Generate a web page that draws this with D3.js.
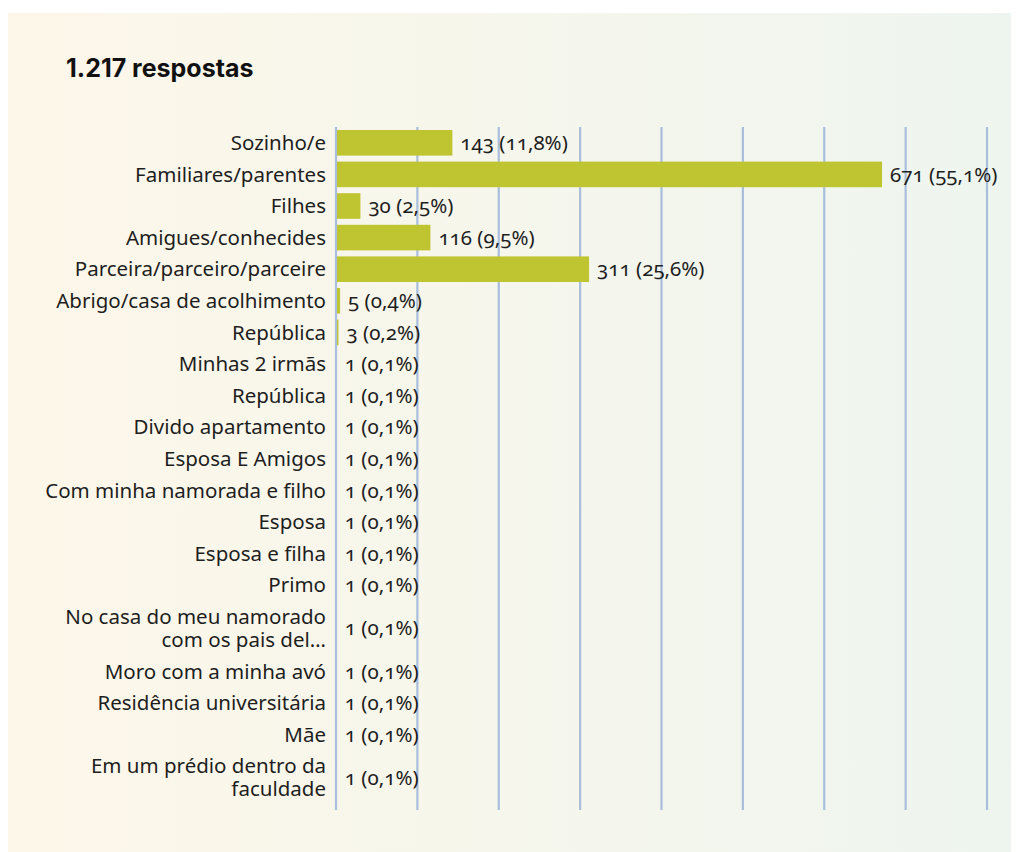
<!DOCTYPE html>
<html>
<head>
<meta charset="utf-8">
<script src="https://cdn.jsdelivr.net/npm/d3@7"></script>
<style>
  html, body { margin: 0; padding: 0; background: #ffffff; }
  svg { display: block; }
</style>
</head>
<body>
<svg id="chart" width="1020" height="852"></svg>
<script>
const title = "1.217 respostas";
const categories = [
  "Sozinho/e",
  "Familiares/parentes",
  "Filhes",
  "Amigues/conhecides",
  "Parceira/parceiro/parceire",
  "Abrigo/casa de acolhimento",
  "República",
  "Minhas 2 irmãs",
  "República",
  "Divido apartamento",
  "Esposa E Amigos",
  "Com minha namorada e filho",
  "Esposa",
  "Esposa e filha",
  "Primo",
  "No casa do meu namorado\ncom os pais del…",
  "Moro com a minha avó",
  "Residência universitária",
  "Mãe",
  "Em um prédio dentro da\nfaculdade"
];
const values = [143, 671, 30, 116, 311, 5, 3, 1, 1, 1, 1, 1, 1, 1, 1, 1, 1, 1, 1, 1];
const percents = ["11,8%", "55,1%", "2,5%", "9,5%", "25,6%", "0,4%", "0,2%", "0,1%", "0,1%", "0,1%",
                  "0,1%", "0,1%", "0,1%", "0,1%", "0,1%", "0,1%", "0,1%", "0,1%", "0,1%", "0,1%"];
const xTicks = [0, 100, 200, 300, 400, 500, 600, 700, 800];

(function () {
const svg = d3.select("#chart");
const W = 1020, H = 852;

const defs = svg.append("defs");
const grad = defs.append("linearGradient").attr("id", "bg").attr("x1", "0%").attr("x2", "100%").attr("y1", "0%").attr("y2", "0%");
grad.append("stop").attr("offset", "0%").attr("stop-color", "#fdf7e9");
grad.append("stop").attr("offset", "100%").attr("stop-color", "#eef5ef");
svg.append("rect").attr("x", 8).attr("y", 13).attr("width", 1003).attr("height", H - 13).attr("fill", "url(#bg)");

svg.append("text").attr("x", 66).attr("y", 77)
  .attr("font-family", "Inter, Roboto, sans-serif").attr("font-weight", 700)
  .attr("font-size", 25).attr("fill", "#111").text(title);

const mLeft = 336, mRight = 987, mTop = 127, mBottom = 805;
const doubleUnits = 1.728;
const rows = categories.map((c, i) => ({ label: c.split("\n"), value: values[i], pct: percents[i] }));
let acc = 0;
rows.forEach(r => { r.units = r.label.length > 1 ? doubleUnits : 1; r.start = acc; acc += r.units; r.mid = r.start + r.units / 2; });

const x = d3.scaleLinear().domain([0, 800]).range([mLeft, mRight]);
const y = d3.scaleLinear().domain([0, acc]).range([mTop, mBottom]);
const barUnits = 0.81;

svg.append("g").selectAll("line").data(xTicks).join("line")
  .attr("x1", d => x(d)).attr("x2", d => x(d))
  .attr("y1", mTop).attr("y2", mBottom + 5)
  .attr("stroke", "#a9bedd").attr("stroke-width", 2.2);

svg.append("g").selectAll("rect").data(rows).join("rect")
  .attr("x", x(0) + 1)
  .attr("y", d => y(d.mid - barUnits / 2))
  .attr("width", d => Math.max(0, x(d.value) - x(0) - 1))
  .attr("height", d => y(barUnits) - y(0))
  .attr("fill", "#bfc431");

const font = "'Noto Sans', 'Open Sans', sans-serif";
const fs = 20.5;
const lab = svg.append("g").attr("font-family", font).attr("font-size", fs).attr("fill", "#1e1e1e").attr("text-anchor", "end");
rows.forEach(r => {
  const n = r.label.length;
  const lh = 23;
  const t = lab.append("text").attr("x", mLeft - 10);
  r.label.forEach((s, k) => {
    t.append("tspan").attr("x", mLeft - 10)
      .attr("y", y(r.mid) + (k - (n - 1) / 2) * lh)
      .attr("dy", "0.35em").text(s);
  });
});

svg.append("g").attr("font-family", font).attr("font-size", fs).attr("fill", "#1e1e1e")
  .style("font-variant-numeric", "oldstyle-nums")
  .selectAll("text").data(rows).join("text")
  .attr("x", d => x(d.value) + 8)
  .attr("y", d => y(d.mid))
  .attr("dy", "0.35em")
  .text(d => `${d.value} (${d.pct})`);
})();
</script>
</body>
</html>
